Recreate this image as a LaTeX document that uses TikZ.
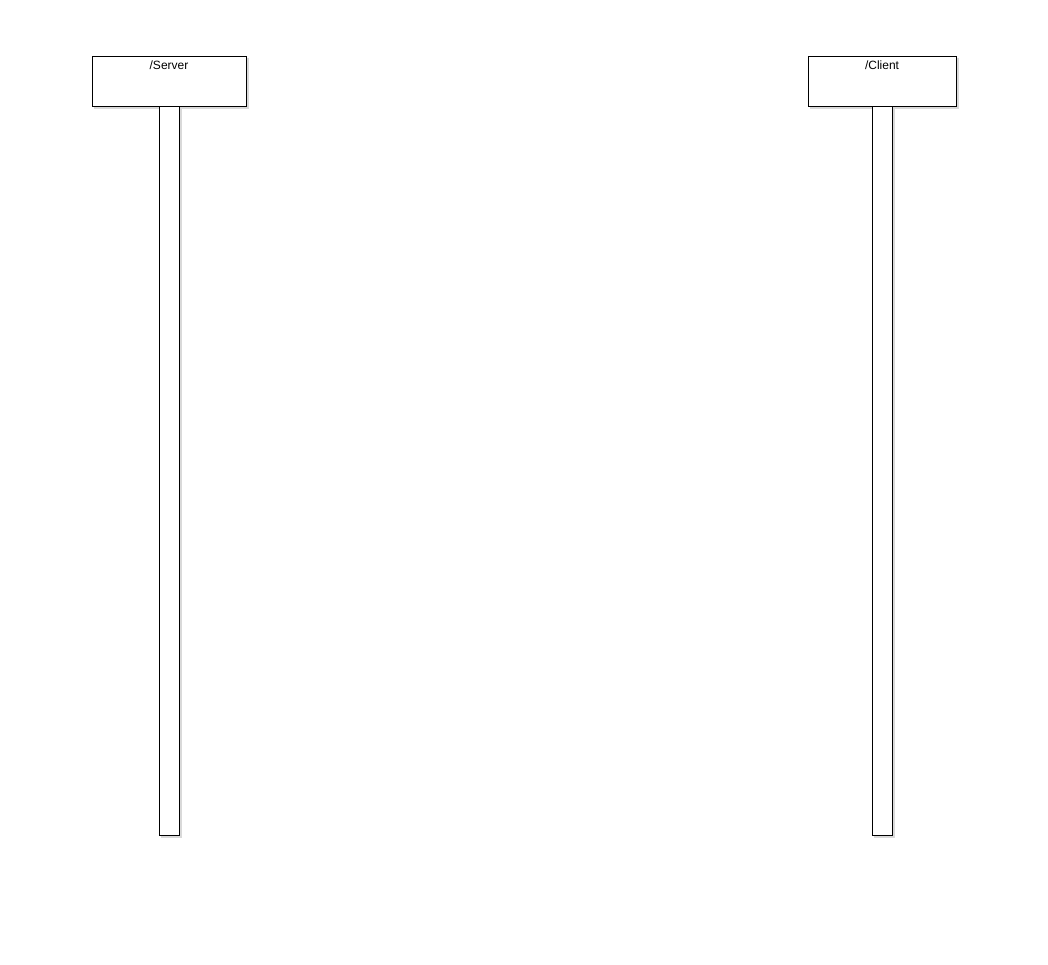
\documentclass[tikz,border=0pt]{standalone}
\usepackage{fontspec}
\setmainfont{Liberation Sans}
\begin{document}
\begin{tikzpicture}[x=1pt,y=-1pt,
  shadowfill/.style={fill=black!15, draw=none},
  headbox/.style={draw=black, fill=white, line width=1pt},
  lifebox/.style={draw=black, fill=white, line width=1pt},
  lbl/.style={font=\fontsize{12}{14}\selectfont, anchor=north, inner sep=0pt}]
\useasboundingbox (0,0) rectangle (1048,964);
% shadows
\fill[shadowfill] (161,108) rectangle (182,838);
\fill[shadowfill] (874,108) rectangle (895,838);
\fill[shadowfill] (94,58) rectangle (249,109);
\fill[shadowfill] (810,58) rectangle (959,109);
% lifelines
\draw[lifebox] (159,106) rectangle (179,835);
\draw[lifebox] (872,106) rectangle (892,835);
% heads
\draw[headbox] (92,56) rectangle (246,106);
\draw[headbox] (808,56) rectangle (956,106);
\node[lbl] (server) at (169,60.5) {/Server};
\node[lbl] (client) at (882,60.5) {/Client};
\end{tikzpicture}
\end{document}
